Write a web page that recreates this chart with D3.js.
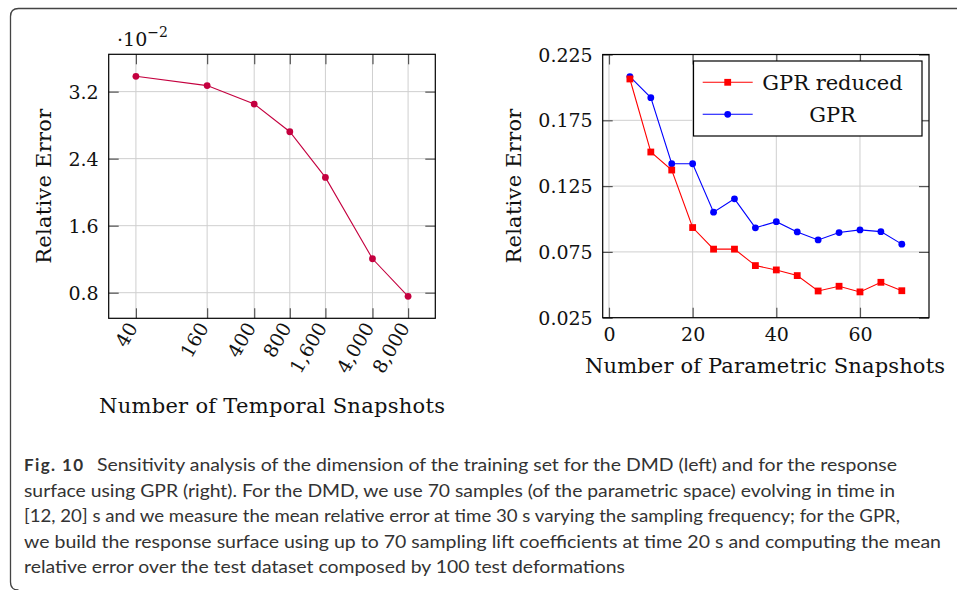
<!DOCTYPE html>
<html>
<head>
<meta charset="utf-8">
<script src="https://cdn.jsdelivr.net/npm/d3@7"></script>
<style>
  html, body { margin: 0; padding: 0; background: #fff; }
  svg { display: block; }
</style>
</head>
<body>
<svg id="chart" width="957" height="590"></svg>
<script>
// ---------- DATA ----------
const temporalSnapshots = [40, 160, 400, 800, 1600, 4000, 8000];
const dmdError = [3.383, 3.272, 3.052, 2.721, 2.176, 1.205, 0.757]; // x 10^-2
const leftYTicks = [0.8, 1.6, 2.4, 3.2];

const paramSnapshots = [5, 10, 15, 20, 25, 30, 35, 40, 45, 50, 55, 60, 65, 70];
const gprReduced = [0.2064, 0.1509, 0.1372, 0.0935, 0.0771, 0.0771, 0.0646, 0.0613, 0.0570, 0.0453, 0.0489, 0.0446, 0.0519, 0.0455];
const gprFull    = [0.2082, 0.1922, 0.1420, 0.1420, 0.1052, 0.1153, 0.0933, 0.0980, 0.0902, 0.0841, 0.0897, 0.0917, 0.0904, 0.0809];
const rightYTicks = [0.025, 0.075, 0.125, 0.175, 0.225];
const rightXTicks = [0, 20, 40, 60];
const seriesNames = ["GPR reduced", "GPR"];

const captionBold = "Fig. 10";
const captionLines = [
  "Sensitivity analysis of the dimension of the training set for the DMD (left) and for the response",
  "surface using GPR (right). For the DMD, we use 70 samples (of the parametric space) evolving in time in",
  "[12, 20] s and we measure the mean relative error at time 30 s varying the sampling frequency; for the GPR,",
  "we build the response surface using up to 70 sampling lift coefficients at time 20 s and computing the mean",
  "relative error over the test dataset composed by 100 test deformations"
];

// ---------- SETUP ----------
const svg = d3.select("#chart");
const SERIF = "'DejaVu Serif', serif";
const FS = 19;      // tick labels
const FT = 21;      // titles & legend
const gridCol = "#cfcfcf";
const tickCol = "#555";
const tickLen = 10;

// frame
svg.append("path")
  .attr("d", "M957,8.5 L18.5,8.5 Q10.5,8.5 10.5,16.5 L10.5,582 Q10.5,590 18.5,590")
  .attr("fill", "none").attr("stroke", "#444").attr("stroke-width", 1.3);

// ---------- LEFT CHART ----------
const L = {x0: 108.7, x1: 435.3, y0: 54.3, y1: 318.3};
const lxExt = d3.extent(temporalSnapshots);
const lPad = 0.1 * Math.log10(lxExt[1] / lxExt[0]);
const xL = d3.scaleLog()
  .domain([lxExt[0] / Math.pow(10, lPad), lxExt[1] * Math.pow(10, lPad)])
  .range([L.x0, L.x1]);
const lyExt = d3.extent(dmdError);
const lyPad = 0.1 * (lyExt[1] - lyExt[0]);
const yL = d3.scaleLinear().domain([lyExt[0] - lyPad, lyExt[1] + lyPad]).range([L.y1, L.y0]);

const gL = svg.append("g");
gL.selectAll(".vg").data(temporalSnapshots).join("line")
  .attr("x1", d => xL(d)).attr("x2", d => xL(d)).attr("y1", L.y0).attr("y2", L.y1)
  .attr("stroke", gridCol).attr("stroke-width", 1);
gL.selectAll(".hg").data(leftYTicks).join("line")
  .attr("x1", L.x0).attr("x2", L.x1).attr("y1", d => yL(d)).attr("y2", d => yL(d))
  .attr("stroke", gridCol).attr("stroke-width", 1);

const lBottom = gL.append("g").attr("transform", `translate(0,${L.y1})`)
  .call(d3.axisBottom(xL).tickValues(temporalSnapshots).tickSizeInner(-tickLen).tickSizeOuter(0).tickFormat(d3.format(",")));
const lTop = gL.append("g").attr("transform", `translate(0,${L.y0})`)
  .call(d3.axisTop(xL).tickValues(temporalSnapshots).tickSizeInner(-tickLen).tickSizeOuter(0).tickFormat(""));
const lLeft = gL.append("g").attr("transform", `translate(${L.x0},0)`)
  .call(d3.axisLeft(yL).tickValues(leftYTicks).tickSizeInner(-tickLen).tickSizeOuter(0).tickPadding(10).tickFormat(d3.format(".1f")));
const lRight = gL.append("g").attr("transform", `translate(${L.x1},0)`)
  .call(d3.axisRight(yL).tickValues(leftYTicks).tickSizeInner(-tickLen).tickSizeOuter(0).tickFormat(""));

[lBottom, lTop, lLeft, lRight].forEach(a => {
  a.select(".domain").remove();
  a.selectAll(".tick line").attr("stroke", tickCol).attr("stroke-width", 1.2);
  a.selectAll("text").attr("font-family", SERIF).attr("font-size", FS).attr("fill", "#111");
});
lLeft.selectAll("text").attr("dy", "0.35em");
lBottom.selectAll("text")
  .attr("text-anchor", "end")
  .attr("dy", "0.35em")
  .attr("transform", "translate(0,-1) rotate(-60)")
  .attr("y", 0).attr("x", -8);

gL.append("rect").attr("x", L.x0).attr("y", L.y0).attr("width", L.x1 - L.x0).attr("height", L.y1 - L.y0)
  .attr("fill", "none").attr("stroke", "#000").attr("stroke-width", 1.2);

const lColor = "#C4003F";
gL.append("path").datum(temporalSnapshots.map((d, i) => [d, dmdError[i]]))
  .attr("d", d3.line().x(d => xL(d[0])).y(d => yL(d[1])))
  .attr("fill", "none").attr("stroke", lColor).attr("stroke-width", 1.1);
gL.selectAll(".pt").data(temporalSnapshots).join("circle")
  .attr("cx", d => xL(d)).attr("cy", (d, i) => yL(dmdError[i])).attr("r", 3.4).attr("fill", lColor);

const mult = gL.append("text").attr("x", 117).attr("y", 46).attr("font-family", SERIF).attr("font-size", FS).attr("fill", "#111");
mult.append("tspan").text("·10");
mult.append("tspan").attr("dy", -9).attr("font-size", 14).text("−2");

gL.append("text").attr("transform", `translate(51,${(L.y0 + L.y1) / 2}) rotate(-90)`)
  .attr("text-anchor", "middle").attr("font-family", SERIF).attr("font-size", FT).attr("fill", "#111")
  .attr("textLength", 155).text("Relative Error");
gL.append("text").attr("x", 272).attr("y", 413).attr("text-anchor", "middle")
  .attr("font-family", SERIF).attr("font-size", FT).attr("fill", "#111")
  .attr("textLength", 346).text("Number of Temporal Snapshots");

// ---------- RIGHT CHART ----------
const R = {x0: 602.7, x1: 929, y0: 54.5, y1: 317.7};
const rxExt = d3.extent(paramSnapshots);
const rxPad = 0.1 * (rxExt[1] - rxExt[0]);
const xR = d3.scaleLinear().domain([rxExt[0] - rxPad, rxExt[1] + rxPad]).range([R.x0, R.x1]);
const yR = d3.scaleLinear().domain([rightYTicks[0], rightYTicks[rightYTicks.length - 1]]).range([R.y1, R.y0]);

const gR = svg.append("g");
gR.selectAll(".vg").data(rightXTicks).join("line")
  .attr("x1", d => xR(d)).attr("x2", d => xR(d)).attr("y1", R.y0).attr("y2", R.y1)
  .attr("stroke", gridCol).attr("stroke-width", 1);
gR.selectAll(".hg").data(rightYTicks).join("line")
  .attr("x1", R.x0).attr("x2", R.x1).attr("y1", d => yR(d)).attr("y2", d => yR(d))
  .attr("stroke", gridCol).attr("stroke-width", 1);

const rBottom = gR.append("g").attr("transform", `translate(0,${R.y1})`)
  .call(d3.axisBottom(xR).tickValues(rightXTicks).tickSizeInner(-tickLen).tickSizeOuter(0).tickPadding(8).tickFormat(d3.format("d")));
const rTop = gR.append("g").attr("transform", `translate(0,${R.y0})`)
  .call(d3.axisTop(xR).tickValues(rightXTicks).tickSizeInner(-tickLen).tickSizeOuter(0).tickFormat(""));
const rLeft = gR.append("g").attr("transform", `translate(${R.x0},0)`)
  .call(d3.axisLeft(yR).tickValues(rightYTicks).tickSizeInner(-tickLen).tickSizeOuter(0).tickPadding(10).tickFormat(d3.format(".3f")));
const rRight = gR.append("g").attr("transform", `translate(${R.x1},0)`)
  .call(d3.axisRight(yR).tickValues(rightYTicks).tickSizeInner(-tickLen).tickSizeOuter(0).tickFormat(""));
[rBottom, rTop, rLeft, rRight].forEach(a => {
  a.select(".domain").remove();
  a.selectAll(".tick line").attr("stroke", tickCol).attr("stroke-width", 1.2);
  a.selectAll("text").attr("font-family", SERIF).attr("font-size", FS).attr("fill", "#111");
});
rBottom.selectAll("text").attr("dy", "0.8em");
rLeft.selectAll("text").attr("dy", "0.35em");

gR.append("rect").attr("x", R.x0).attr("y", R.y0).attr("width", R.x1 - R.x0).attr("height", R.y1 - R.y0)
  .attr("fill", "none").attr("stroke", "#000").attr("stroke-width", 1.2);

const redC = "#ff0000", blueC = "#0000ff";
const lineR = d3.line().x(d => xR(d[0])).y(d => yR(d[1]));
gR.append("path").datum(paramSnapshots.map((d, i) => [d, gprFull[i]]))
  .attr("d", lineR).attr("fill", "none").attr("stroke", blueC).attr("stroke-width", 1.1);
gR.selectAll(".bpt").data(paramSnapshots).join("circle")
  .attr("cx", d => xR(d)).attr("cy", (d, i) => yR(gprFull[i])).attr("r", 3.4).attr("fill", blueC);
gR.append("path").datum(paramSnapshots.map((d, i) => [d, gprReduced[i]]))
  .attr("d", lineR).attr("fill", "none").attr("stroke", redC).attr("stroke-width", 1.1);
gR.selectAll(".rpt").data(paramSnapshots).join("rect")
  .attr("x", d => xR(d) - 3.4).attr("y", (d, i) => yR(gprReduced[i]) - 3.4)
  .attr("width", 6.8).attr("height", 6.8).attr("fill", redC);

// legend
const lg = gR.append("g");
lg.append("rect").attr("x", 693.5).attr("y", 61).attr("width", 228.5).attr("height", 75)
  .attr("fill", "#fff").attr("stroke", "#000").attr("stroke-width", 1.2);
const legY = [82.3, 114.3];
const legCols = [redC, blueC];
seriesNames.forEach((name, i) => {
  lg.append("line").attr("x1", 702.7).attr("x2", 752.7).attr("y1", legY[i]).attr("y2", legY[i])
    .attr("stroke", legCols[i]).attr("stroke-width", 1.1);
  if (i === 0) {
    lg.append("rect").attr("x", 727.7 - 3.4).attr("y", legY[i] - 3.4).attr("width", 6.8).attr("height", 6.8).attr("fill", redC);
  } else {
    lg.append("circle").attr("cx", 727.7).attr("cy", legY[i]).attr("r", 3.4).attr("fill", blueC);
  }
  lg.append("text").attr("x", 832.5).attr("y", legY[i]).attr("dy", "0.35em").attr("text-anchor", "middle")
    .attr("font-family", SERIF).attr("font-size", FT).attr("fill", "#111").text(name);
});

gR.append("text").attr("transform", `translate(521,${(R.y0 + R.y1) / 2}) rotate(-90)`)
  .attr("text-anchor", "middle").attr("font-family", SERIF).attr("font-size", FT).attr("fill", "#111")
  .attr("textLength", 155).text("Relative Error");
gR.append("text").attr("x", 765).attr("y", 373).attr("text-anchor", "middle")
  .attr("font-family", SERIF).attr("font-size", FT).attr("fill", "#111")
  .attr("textLength", 360).text("Number of Parametric Snapshots");

// ---------- CAPTION ----------
const SANS = "Lato, 'Open Sans', sans-serif";
const capBase = [471, 497, 522, 548, 573];
const capEnds = [897, 895, 900, 941, 625];
const cap = svg.append("g").attr("font-family", SANS).attr("font-size", 17).attr("fill", "#333");
cap.append("text").attr("x", 24).attr("y", capBase[0]).attr("font-weight", "bold")
  .attr("textLength", 59).text(captionBold);
captionLines.forEach((t, i) => {
  const x0 = i === 0 ? 97 : 24;
  cap.append("text").attr("x", x0).attr("y", capBase[i])
    .attr("textLength", capEnds[i] - x0).attr("lengthAdjust", "spacingAndGlyphs").text(t);
});
</script>
</body>
</html>
